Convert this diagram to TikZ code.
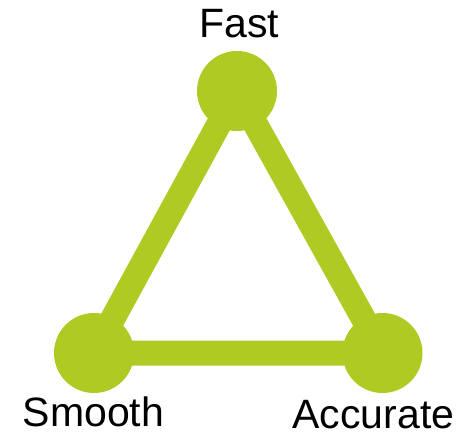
\documentclass[tikz,border=0pt]{standalone}
\usepackage{fontspec}
\setmainfont{Liberation Sans}
\definecolor{lime}{RGB}{176,202,36}
\begin{document}
\begin{tikzpicture}[x=1pt,y=-1pt,
  vertex/.style={circle,fill=lime,minimum size=80pt,inner sep=0pt},
  edge/.style={draw=lime,line width=25pt},
  lbl/.style={anchor=base,inner sep=0pt,font=\fontsize{41}{48}\selectfont}]
\useasboundingbox (0,0) rectangle (473,434);
\coordinate (cf) at (237,91);
\coordinate (cs) at (94,353);
\coordinate (ca) at (382.5,353);
\draw[edge] (cf) -- (cs) -- (ca) -- cycle;
\node[vertex] (f) at (cf) {};
\node[vertex] (s) at (cs) {};
\node[vertex] (a) at (ca) {};
\node[lbl] (lf) at (239.5,37) {Fast};
\node[lbl] (ls) at (93.5,426) {Smooth};
\node[lbl] (la) at (373.5,428.5) {Accurate};
\end{tikzpicture}
\end{document}
